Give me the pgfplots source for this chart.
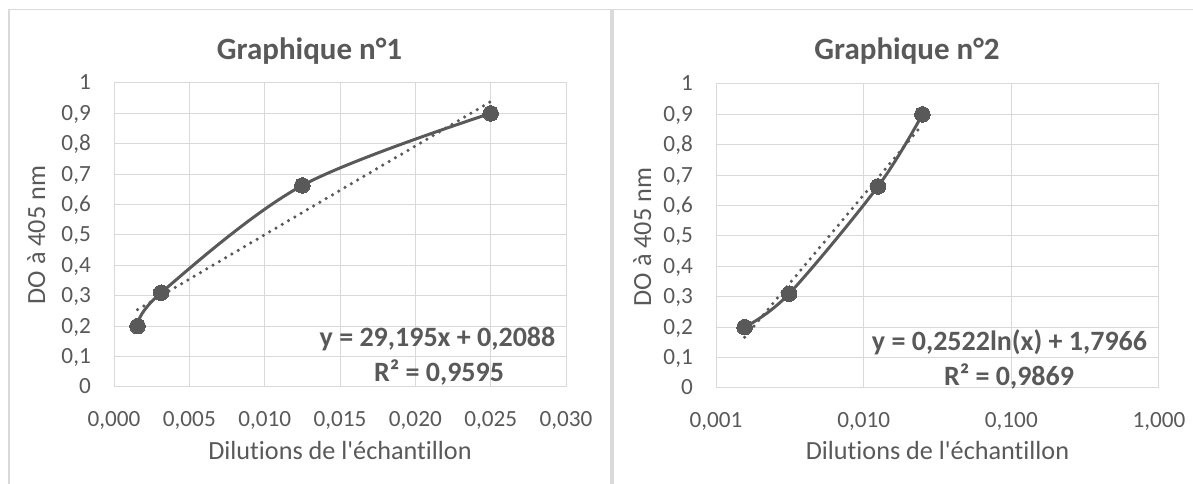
\documentclass[border=0pt]{standalone}
\usepackage{fontspec}
\defaultfontfeatures{Ligatures={NoCommon}}
\defaultfontfeatures[\rmfamily]{Ligatures={NoCommon}}
\setmainfont{Carlito}[Ligatures={NoCommon}]
\usepackage{pgfplots}
\pgfplotsset{compat=1.18}
\definecolor{txt}{HTML}{595959}
\definecolor{grd}{HTML}{D9D9D9}
\definecolor{frm}{HTML}{DADADA}
\definecolor{ser}{HTML}{595959}
\newcommand\tickfont{\fontsize{23.2bp}{26bp}\selectfont}
\newcommand\labfont{\fontsize{26.2bp}{30bp}\selectfont}
\newcommand\titfont{\fontsize{31bp}{36bp}\selectfont\bfseries}
\newcommand\eqfont{\fontsize{28bp}{33bp}\selectfont\bfseries}
\pgfplotsset{
  excel/.style={
    scale only axis, height=304bp,
    ymin=0, ymax=1,
    scaled x ticks=false, scaled y ticks=false,
    ytick={0,0.1,0.2,0.3,0.4,0.5,0.6,0.7,0.8,0.9,1},
    yticklabels={0,{0,1},{0,2},{0,3},{0,4},{0,5},{0,6},{0,7},{0,8},{0,9},1},
    grid=major, major grid style={grd, line width=1bp},
    axis line style={grd, line width=1bp},
    major tick length=0pt, minor tick length=0pt,
    tick style={draw=none},
    tick label style={font=\tickfont, text=txt, inner sep=0pt},
    xticklabel style={anchor=base, yshift=-39.7bp},
    yticklabel style={anchor=base east, xshift=-23bp, yshift=-7bp},
  },
  dataser/.style={ser, line width=3bp, smooth, tension=0.55, mark=*, mark size=7.8bp,
    mark options={fill=ser, draw=ser, line width=0pt, solid}},
  trend/.style={ser, line width=3.5bp, line cap=round, dash pattern=on 0bp off 7.3bp, no marks},
}
\begin{document}
\begin{tikzpicture}
\useasboundingbox (0bp,0bp) rectangle (1193bp,484bp);
\fill[frm] (7.5bp,0bp) rectangle (9.5bp,474.5bp);
\fill[frm] (7.5bp,473.5bp) rectangle (1193bp,474.5bp);
\fill[frm] (610bp,0bp) rectangle (614bp,474bp);

\begin{axis}[excel, at={(114bp,97bp)}, anchor=south west, width=452bp,
  xmin=0, xmax=0.03,
  xtick={0,0.005,0.01,0.015,0.02,0.025,0.03},
  xticklabels={{0,000},{0,005},{0,010},{0,015},{0,020},{0,025},{0,030}}]
\addplot[dataser] coordinates {(0.0015625,0.2) (0.003125,0.31) (0.0125,0.663) (0.025,0.9)};
\addplot[trend] coordinates {(0.0015625,0.2544) (0.025,0.9387)};
\end{axis}

\begin{axis}[excel, at={(716bp,96bp)}, anchor=south west, width=443bp,
  xmode=log, xmin=0.001, xmax=1,
  xtick={0.001,0.01,0.1,1}, minor xtick={},
  xticklabels={{0,001},{0,010},{0,100},{1,000}}]
\addplot[dataser] coordinates {(0.0015625,0.2) (0.003125,0.31) (0.0125,0.663) (0.025,0.9)};
\addplot[trend] coordinates {(0.0015625,0.1670) (0.025,0.8663)};
\end{axis}

\node[anchor=base, text=txt, font=\titfont, inner sep=0pt] at (309.5bp,424bp) {Graphique n°1};
\node[anchor=base, text=txt, font=\titfont, inner sep=0pt] at (907bp,424bp) {Graphique n°2};
\node[anchor=base, text=txt, font=\labfont, inner sep=0pt] at (340bp,24.7bp) {Dilutions de l'échantillon};
\node[anchor=base, text=txt, font=\labfont, inner sep=0pt] at (937.5bp,24.7bp) {Dilutions de l'échantillon};
\node[anchor=base, rotate=90, text=txt, font=\labfont, inner sep=0pt] at (45bp,249bp) {DO à 405 nm};
\node[anchor=base, rotate=90, text=txt, font=\labfont, inner sep=0pt] at (651bp,247bp) {DO à 405 nm};
\node[anchor=base, text=txt, font=\eqfont, inner sep=0pt] at (437.5bp,137bp) {y = 29,195x + 0,2088};
\node[anchor=base, text=txt, font=\eqfont, inner sep=0pt] at (439bp,102bp) {R² = 0,9595};
\node[anchor=base, text=txt, font=\eqfont, inner sep=0pt] at (1009.5bp,133bp) {y = 0,2522ln(x) + 1,7966};
\node[anchor=base, text=txt, font=\eqfont, inner sep=0pt] at (1009bp,98bp) {R² = 0,9869};
\end{tikzpicture}
\end{document}
